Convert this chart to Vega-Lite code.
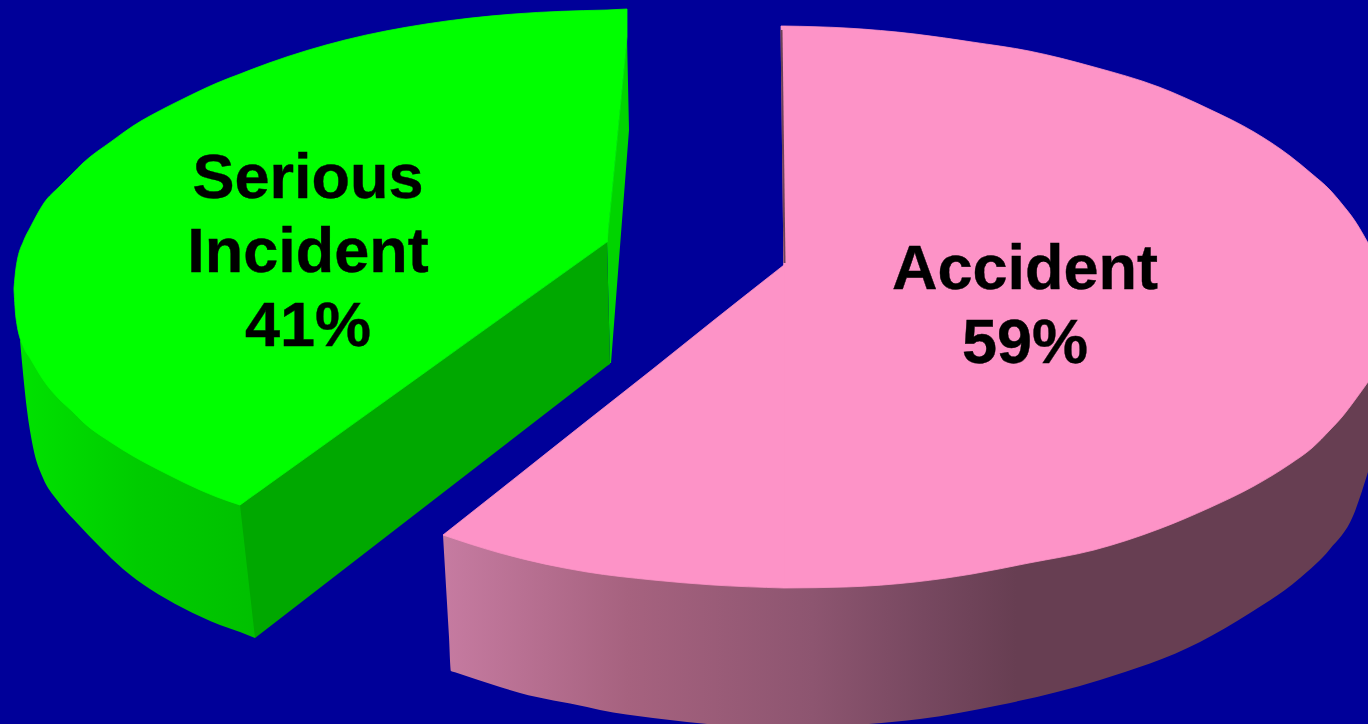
{"$schema":"https://vega.github.io/schema/vega-lite/v6.json","width":1368,"height":724,"padding":0,"autosize":{"type":"fit","contains":"padding"},"background":"#000099","config":{"view":{"stroke":null}},"datasets":{"shapes":[
{"part":"greenSide","x":20,"top":340,"bottom":340},{"part":"greenSide","x":23,"top":343,"bottom":373},{"part":"greenSide","x":27,"top":350,"bottom":410},{"part":"greenSide","x":33,"top":360,"bottom":447},{"part":"greenSide","x":43,"top":377,"bottom":478},{"part":"greenSide","x":57,"top":392,"bottom":500},{"part":"greenSide","x":77,"top":414,"bottom":523},{"part":"greenSide","x":100,"top":434,"bottom":547},{"part":"greenSide","x":123,"top":448,"bottom":569},{"part":"greenSide","x":150,"top":463,"bottom":589},{"part":"greenSide","x":183,"top":480,"bottom":608},{"part":"greenSide","x":220,"top":495,"bottom":625},{"part":"greenSide","x":240,"top":500,"bottom":632},{"part":"greenSide","x":255,"top":500,"bottom":638},
{"part":"greenSliver","x":607,"top":242,"bottom":242},{"part":"greenSliver","x":610,"top":211,"bottom":363},{"part":"greenSliver","x":611,"top":201,"bottom":363},{"part":"greenSliver","x":627,"top":37,"bottom":156},{"part":"greenSliver","x":629,"top":130,"bottom":130},
{"part":"greenCut","x":240,"top":505,"bottom":505},{"part":"greenCut","x":255,"top":494,"bottom":638},{"part":"greenCut","x":607,"top":242,"bottom":366},{"part":"greenCut","x":610,"top":363,"bottom":364},
{"part":"greenTopA","x":14,"top":288,"bottom":290},{"part":"greenTopA","x":16,"top":268,"bottom":318},{"part":"greenTopA","x":24,"top":240,"bottom":348},{"part":"greenTopA","x":30,"top":228,"bottom":358},{"part":"greenTopA","x":44,"top":203,"bottom":381},{"part":"greenTopA","x":60,"top":186,"bottom":400},{"part":"greenTopA","x":72,"top":174,"bottom":411},{"part":"greenTopA","x":83,"top":163,"bottom":422},{"part":"greenTopA","x":112,"top":141,"bottom":443},{"part":"greenTopA","x":133,"top":126,"bottom":456},{"part":"greenTopA","x":165,"top":108,"bottom":473},{"part":"greenTopA","x":183,"top":99,"bottom":482},{"part":"greenTopA","x":217,"top":83,"bottom":497},{"part":"greenTopA","x":240,"top":74,"bottom":505},
{"part":"greenTopB","x":240,"top":74,"bottom":505},{"part":"greenTopB","x":269,"top":63,"bottom":484.2},{"part":"greenTopB","x":345,"top":40,"bottom":429.8},{"part":"greenTopB","x":426,"top":24,"bottom":371.7},{"part":"greenTopB","x":514,"top":14,"bottom":308.6},{"part":"greenTopB","x":607,"top":10,"bottom":242},
{"part":"greenTopC","x":607,"top":10,"bottom":242},{"part":"greenTopC","x":627,"top":9,"bottom":37},
{"part":"pinkSide","x":443,"top":535,"bottom":535},{"part":"pinkSide","x":445,"top":535,"bottom":569},{"part":"pinkSide","x":447,"top":535,"bottom":603},{"part":"pinkSide","x":449,"top":535,"bottom":637},{"part":"pinkSide","x":451,"top":535,"bottom":671},{"part":"pinkSide","x":455,"top":536,"bottom":672.3},{"part":"pinkSide","x":500,"top":550,"bottom":687},{"part":"pinkSide","x":520,"top":555,"bottom":693},{"part":"pinkSide","x":587,"top":569,"bottom":707},{"part":"pinkSide","x":600,"top":571,"bottom":710},{"part":"pinkSide","x":653,"top":577,"bottom":718},{"part":"pinkSide","x":687,"top":580,"bottom":722},{"part":"pinkSide","x":720,"top":583,"bottom":725},{"part":"pinkSide","x":783,"top":585,"bottom":727},{"part":"pinkSide","x":853,"top":583,"bottom":725},{"part":"pinkSide","x":920,"top":578,"bottom":719},{"part":"pinkSide","x":1000,"top":566,"bottom":705},{"part":"pinkSide","x":1100,"top":546,"bottom":680},{"part":"pinkSide","x":1200,"top":509,"bottom":642},{"part":"pinkSide","x":1250,"top":485,"bottom":613},{"part":"pinkSide","x":1300,"top":454,"bottom":578},{"part":"pinkSide","x":1330,"top":428,"bottom":549},{"part":"pinkSide","x":1353,"top":399,"bottom":516},{"part":"pinkSide","x":1368,"top":379,"bottom":472},
{"part":"pinkTopA","x":443,"top":535,"bottom":535},{"part":"pinkTopA","x":500,"top":490,"bottom":553},{"part":"pinkTopA","x":587,"top":421,"bottom":572},{"part":"pinkTopA","x":653,"top":369,"bottom":580},{"part":"pinkTopA","x":713,"top":321,"bottom":585},{"part":"pinkTopA","x":784,"top":265,"bottom":588},
{"part":"pinkEdge","x":781,"top":26,"bottom":26},{"part":"pinkEdge","x":784,"top":26,"bottom":265},
{"part":"pinkTopB","x":784,"top":26,"bottom":588},{"part":"pinkTopB","x":846,"top":28,"bottom":587},{"part":"pinkTopB","x":915,"top":34,"bottom":582},{"part":"pinkTopB","x":972,"top":42,"bottom":574},{"part":"pinkTopB","x":1029,"top":51,"bottom":563},{"part":"pinkTopB","x":1094,"top":67,"bottom":550},{"part":"pinkTopB","x":1159,"top":87,"bottom":529},{"part":"pinkTopB","x":1209,"top":109,"bottom":508},{"part":"pinkTopB","x":1254,"top":132,"bottom":486},{"part":"pinkTopB","x":1290,"top":156,"bottom":464},{"part":"pinkTopB","x":1312,"top":174,"bottom":448},{"part":"pinkTopB","x":1330,"top":190,"bottom":430},{"part":"pinkTopB","x":1342,"top":204,"bottom":417},{"part":"pinkTopB","x":1355,"top":221,"bottom":400},{"part":"pinkTopB","x":1368,"top":243,"bottom":382}
],"seam":[{"x":781.5,"y":30},{"x":784.5,"y":263}],"labels":[{"slice":"Serious Incident","text":"Serious","x":308,"y":198},{"slice":"Serious Incident","text":"Incident","x":308,"y":272},{"slice":"Serious Incident","text":"41%","x":308,"y":346},{"slice":"Accident","text":"Accident","x":1025,"y":289},{"slice":"Accident","text":"59%","x":1025,"y":363}]},
"data":{"name":"shapes"},
"encoding":{"x":{"field":"x","type":"quantitative","scale":{"domain":[0,1368],"nice":false,"zero":false},"axis":null},"y":{"field":"top","type":"quantitative","scale":{"domain":[724,0],"nice":false,"zero":false},"axis":null},"y2":{"field":"bottom"}},
"layer":[
{"transform":[{"filter":"datum.part==='greenSide'"}],"mark":{"type":"area","clip":true,"interpolate":"monotone","fill":{"gradient":"linear","x1":0,"x2":1,"y1":0,"y2":0,"stops":[{"offset":0,"color":"#00e200"},{"offset":0.5,"color":"#00cc00"},{"offset":1,"color":"#00c000"}]}}},
{"transform":[{"filter":"datum.part==='greenSliver'"}],"mark":{"type":"area","clip":true,"fill":"#00d400"}},
{"transform":[{"filter":"datum.part==='greenCut'"}],"mark":{"type":"area","clip":true,"fill":"#00a800"}},
{"transform":[{"filter":"datum.part==='greenTopA'"}],"mark":{"type":"area","clip":true,"interpolate":"monotone","fill":"#00ff00","stroke":"#00ff00","strokeWidth":0.8}},
{"transform":[{"filter":"datum.part==='greenTopB'"}],"mark":{"type":"area","clip":true,"interpolate":"monotone","fill":"#00ff00","stroke":"#00ff00","strokeWidth":0.8}},
{"transform":[{"filter":"datum.part==='greenTopC'"}],"mark":{"type":"area","clip":true,"fill":"#00ff00","stroke":"#00ff00","strokeWidth":0.8}},
{"transform":[{"filter":"datum.part==='pinkSide'"}],"mark":{"type":"area","clip":true,"interpolate":"monotone","fill":{"gradient":"linear","x1":0,"x2":1,"y1":0,"y2":0,"stops":[{"offset":0,"color":"#c67ba1"},{"offset":0.2,"color":"#a6627f"},{"offset":0.4,"color":"#8d5570"},{"offset":0.52,"color":"#774860"},{"offset":0.62,"color":"#673e52"},{"offset":1,"color":"#673e52"}]}}},
{"transform":[{"filter":"datum.part==='pinkTopA'"}],"mark":{"type":"area","clip":true,"interpolate":"monotone","fill":"#fd93c7","stroke":"#fd93c7","strokeWidth":0.8}},
{"transform":[{"filter":"datum.part==='pinkEdge'"}],"mark":{"type":"area","clip":true,"fill":"#fd93c7","stroke":"#fd93c7","strokeWidth":0.8}},
{"transform":[{"filter":"datum.part==='pinkTopB'"}],"mark":{"type":"area","clip":true,"interpolate":"monotone","fill":"#fd93c7","stroke":"#fd93c7","strokeWidth":0.8}},
{"data":{"name":"seam"},"mark":{"type":"line","stroke":"#6b4256","strokeWidth":2},"encoding":{"x":{"field":"x","type":"quantitative","scale":{"domain":[0,1368],"nice":false,"zero":false},"axis":null},"y":{"field":"y","type":"quantitative","scale":{"domain":[724,0],"nice":false,"zero":false},"axis":null},"y2":null}},
{"data":{"name":"labels"},"mark":{"type":"text","font":"Liberation Sans","fontWeight":"bold","fontSize":63,"color":"#000000","stroke":"#000000","strokeWidth":0.4,"align":"center","baseline":"alphabetic"},"encoding":{"x":{"field":"x","type":"quantitative","scale":{"domain":[0,1368],"nice":false,"zero":false},"axis":null},"y":{"field":"y","type":"quantitative","scale":{"domain":[724,0],"nice":false,"zero":false},"axis":null},"y2":null,"text":{"field":"text","type":"nominal"}}}
]}
